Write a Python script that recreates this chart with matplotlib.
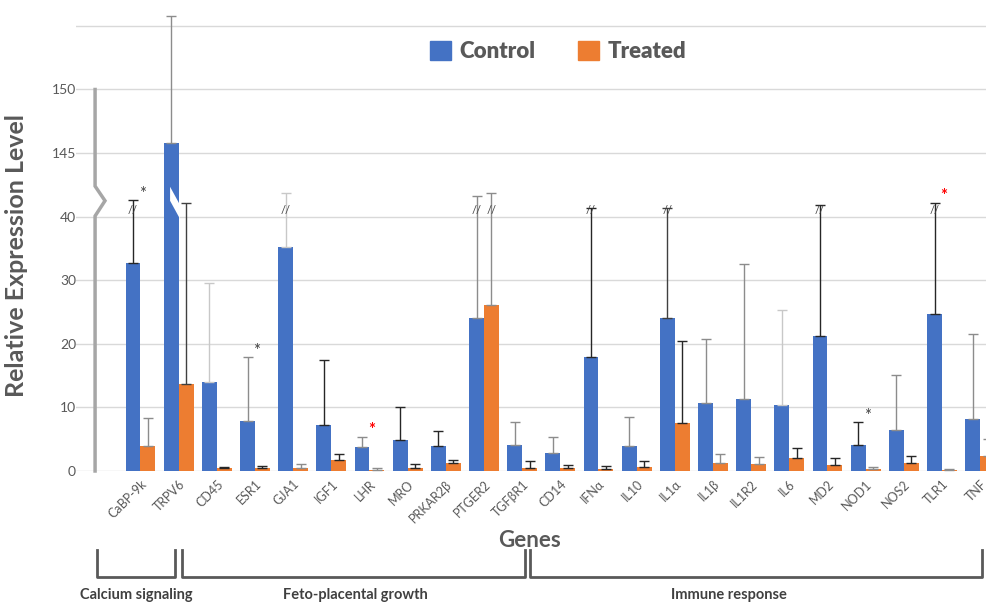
import numpy as np
import matplotlib
matplotlib.use('Agg')
import matplotlib.pyplot as plt
import matplotlib.patches as patches
from matplotlib.font_manager import FontProperties
from matplotlib.transforms import blended_transform_factory

plt.rcParams['font.family'] = ['Lato', 'DejaVu Sans']

# ---- data ----
genes = ['CaBP-9k', 'TRPV6', 'CD45', 'ESR1', 'GJA1', 'IGF1', 'LHR', 'MRO',
         'PRKAR2β', 'PTGER2', 'TGFβR1', 'CD14', 'IFNα', 'IL10', 'IL1α', 'IL1β',
         'IL1R2', 'IL6', 'MD2', 'NOD1', 'NOS2', 'TLR1', 'TNF']
control = [32.7, 145.8, 14.0, 7.8, 35.3, 7.3, 3.7, 4.8, 4.0, 24.0, 4.1, 2.8,
           17.9, 3.9, 24.0, 10.7, 11.3, 10.4, 21.3, 4.15, 6.4, 24.75, 8.1]
control_err = [67.3, 155.8, 29.6, 17.9, 78.9, 17.4, 5.35, 10.1, 6.35, 73.6, 7.7, 5.3,
               54.7, 8.5, 54.7, 20.8, 32.6, 25.3, 58.9, 7.7, 15.1, 62.0, 21.5]
treated = [3.9, 13.7, 0.4, 0.4, 0.5, 1.8, 0.2, 0.5, 1.2, 26.1, 0.5, 0.4,
           0.3, 0.6, 7.6, 1.25, 1.05, 2.0, 0.9, 0.3, 1.25, 0.15, 2.4]
treated_err = [8.4, 62.0, 0.7, 0.85, 1.15, 2.7, 0.4, 1.15, 1.8, 78.9, 1.5, 0.9,
               0.75, 1.5, 20.4, 2.7, 2.15, 3.6, 2.0, 0.6, 2.3, 0.3, 5.1]
truncated_ctrl = ['CaBP-9k', 'GJA1', 'PTGER2', 'IFNα', 'IL1α', 'MD2', 'TLR1']
truncated_trt = ['PTGER2']
stars_black = ['CaBP-9k', 'ESR1', 'NOD1']
stars_red = ['LHR', 'TLR1']
groups = ['Calcium signaling', 'Feto-placental growth', 'Immune response']

# error bar colours per bar (k = dark, d = dark grey, g = grey, l = light grey)
ctrl_ecol = 'kglglkgkkgggkgdgglkkgkg'
trt_ecol = 'gdkkgkgkkgkkkkkggkkgkgg'

BLUE = '#4472C4'
ORANGE = '#ED7D31'
TXT = '#595959'
ECOL = {'k': '#262626', 'd': '#404040', 'g': '#8c8c8c', 'l': '#c8c8c8'}

# bracket extents (in bar-group units) and label centres
bracket_x = [(-1.14, 0.90), (1.09, 10.08), (10.20, 22.05)]
label_x = [-0.12, 5.62, 15.42]


def forward(v):
    v = np.asarray(v, dtype=float)
    return np.where(v <= 40, v / 10,
                    np.where(v >= 145, 5 + (v - 145) / 5, 4 + (v - 40) / 105))


def inverse(p):
    p = np.asarray(p, dtype=float)
    return np.where(p <= 4, p * 10,
                    np.where(p >= 5, 145 + (p - 5) * 5, 40 + (p - 4) * 105))


fig = plt.figure(figsize=(9.87, 6.03), dpi=100)
ax = fig.add_axes([0.077, 0.2189, 0.923, 0.7645])
ax.set_yscale('function', functions=(forward, inverse))

x = np.arange(len(genes))
w = 0.39
ax.bar(x - w / 2, control, w, color=BLUE, zorder=3)
ax.bar(x + w / 2, treated, w, color=ORANGE, zorder=3)

for i in range(len(genes)):
    ax.errorbar(x[i] - w / 2, control[i], yerr=[[0], [control_err[i] - control[i]]],
                fmt='none', ecolor=ECOL[ctrl_ecol[i]], elinewidth=1, capsize=3.8,
                capthick=1, zorder=4)
    ax.errorbar(x[i] + w / 2, treated[i], yerr=[[0], [treated_err[i] - treated[i]]],
                fmt='none', ecolor=ECOL[trt_ecol[i]], elinewidth=1, capsize=3.8,
                capthick=1, zorder=4)

# break marks on truncated error bars
for g in truncated_ctrl:
    i = genes.index(g)
    ax.text(x[i] - w / 2, inverse(4.1), '//', ha='center', va='center',
            fontsize=8, color='#404040', zorder=5)
for g in truncated_trt:
    i = genes.index(g)
    ax.text(x[i] + w / 2, inverse(4.1), '//', ha='center', va='center',
            fontsize=8, color='#404040', zorder=5)

# significance stars
for g in stars_black:
    i = genes.index(g)
    ax.text(x[i] + 0.05, inverse(float(forward(control_err[i])) + 0.09), '*',
            ha='center', va='center', fontsize=12, color='#404040', zorder=5)
for g in stars_red:
    i = genes.index(g)
    ax.text(x[i] + 0.05, inverse(float(forward(control_err[i])) + 0.11), '*',
            ha='center', va='center', fontsize=12, color='red', fontweight='bold',
            zorder=5)

# white slash across the TRPV6 bar
i = genes.index('TRPV6')
xl, xr = x[i] - w / 2 - 0.03, x[i] + 0.03
slash = patches.Polygon([(xl, inverse(4.47)), (xr, inverse(4.19)),
                         (xr, inverse(3.97)), (xl, inverse(4.25))],
                        closed=True, fc='white', ec='none', zorder=3.5)
ax.add_patch(slash)

# broken y axis line
ax_x = -1.19
ax.plot([ax_x, ax_x, ax_x + 0.26, ax_x, ax_x],
        inverse([0, 4.01, 4.25, 4.48, 6.0]),
        color='#a6a6a6', lw=2.5, solid_joinstyle='miter', zorder=2, clip_on=False)

ax.set_xlim(-1.69, 22.18)
ax.set_ylim(0, inverse(7.25))
yt = [0, 10, 20, 30, 40, 145, 150, 155]
ax.set_yticks(yt)
ax.set_yticklabels([str(v) if v != 155 else '' for v in yt])
ax.yaxis.set_minor_locator(matplotlib.ticker.NullLocator())
ax.grid(axis='y', color='#d9d9d9', lw=1, zorder=0)
ax.tick_params(axis='y', length=0, labelsize=10, labelcolor=TXT, pad=0)
ax.set_xticks(x)
ax.set_xticklabels(genes, rotation=45, ha='right', rotation_mode='anchor',
                   fontsize=9, color=TXT)
ax.tick_params(axis='x', length=0, pad=5)
for s in ax.spines.values():
    s.set_visible(False)

ax.set_ylabel('Relative Expression Level', fontsize=18, fontweight='bold', color=TXT)
ax.yaxis.set_label_coords(-0.053, 0.468)
ax.set_xlabel('Genes', fontsize=16, fontweight='bold', color=TXT)
ax.xaxis.set_label_coords(0.498, -0.128)

handles = [patches.Patch(color=BLUE, label='Control'),
           patches.Patch(color=ORANGE, label='Treated')]
leg_font = FontProperties(family=['Lato', 'DejaVu Sans'], weight='heavy', size=16)
leg = fig.legend(handles=handles, loc='center', bbox_to_anchor=(0.5655, 0.914),
                 ncol=2, frameon=False, handlelength=0.95, handleheight=0.95,
                 columnspacing=1.9, handletextpad=0.4, prop=leg_font)
for t in leg.get_texts():
    t.set_color(TXT)

# gene group brackets below the axis
tr = blended_transform_factory(ax.transData, fig.transFigure)
y_low, y_high = 1 - 577 / 603, 1 - 550 / 603
for name, (left, right), lx in zip(groups, bracket_x, label_x):
    ax.plot([left, left, right, right], [y_high, y_low, y_low, y_high],
            transform=tr, color=TXT, lw=2, clip_on=False)
    ax.text(lx, 1 - 595 / 603, name, transform=tr, ha='center', va='center',
            fontsize=10.5, fontweight='bold', color='#404040')

fig.savefig('out.png', dpi=100)
